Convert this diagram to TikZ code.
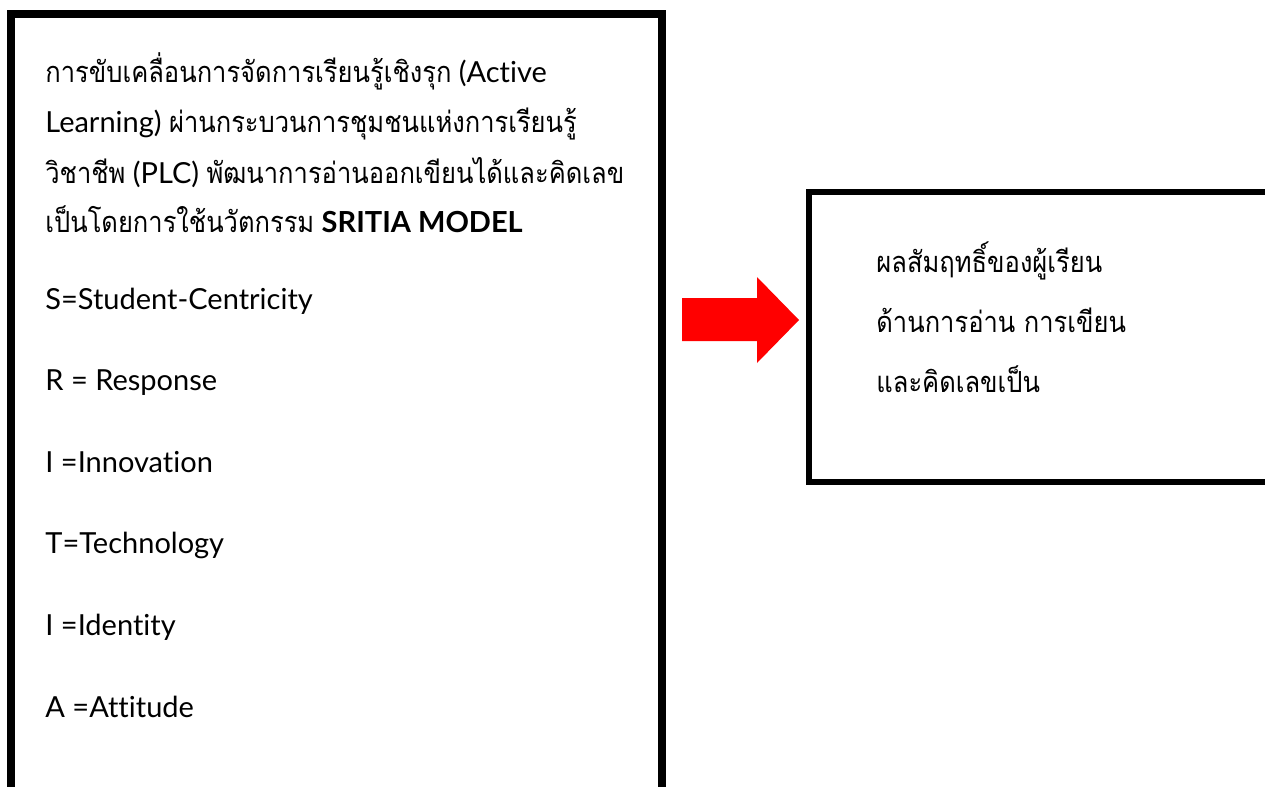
\documentclass[tikz,border=0pt]{standalone}
\usepackage{fontspec}
\setmainfont{Lato}[Ligatures=NoCommon]
\newfontfamily\thaifont[Script=Thai,FakeStretch=0.88]{Loma}
\usetikzlibrary{positioning}
\newcommand{\thtxt}[1]{{\thaifont #1}}
\tikzset{txt/.style={anchor=base west, inner sep=0pt, font=\fontsize{14.5}{17}\selectfont}}

\begin{document}
\begin{tikzpicture}[x=0.5pt,y=-0.5pt]
\clip (0,0) rectangle (1265,787);
\fill[white] (0,0) rectangle (1265,787);
% boxes
\draw[line width=4pt] (11,14) rectangle (662,820);
\draw[line width=3pt] (809,192) rectangle (1290,482);
% arrow
\fill[red] (682,298) -- (757,298) -- (757,277) -- (799,320) -- (757,363) -- (757,341) -- (682,341) -- cycle;
% left text
\node[txt] (p1) at (45,83) {\thtxt{การขับเคลื่อนการจัดการเรียนรู้เชิงรุก} (Active};
\node[txt] (p2) at (45,132) {Learning) \thtxt{ผ่านกระบวนการชุมชนแห่งการเรียนรู้}};
\node[txt] (p3) at (45,183) {\thtxt{วิชาชีพ} (PLC) \thtxt{พัฒนาการอ่านออกเขียนได้และคิดเลข}};
\node[txt] (p4) at (45,232) {\thtxt{เป็นโดยการใช้นวัตกรรม} \textbf{SRITIA MODEL}};
\node[txt] (s) at (45,309) {S=Student-Centricity};
\node[txt] (r) at (45,390) {R = Response};
\node[txt] (i1) at (45,472) {I =Innovation};
\node[txt] (t) at (45,553) {T=Technology};
\node[txt] (i2) at (45,635) {I =Identity};
\node[txt] (a) at (45,717) {A =Attitude};
% right text
\node[txt] (q1) at (876,272) {\thtxt{ผลสัมฤทธิ์ของผู้เรียน}};
\node[txt] (q2) at (876,332) {\thtxt{ด้านการอ่าน การเขียน}};
\node[txt] (q3) at (876,392) {\thtxt{และคิดเลขเป็น}};
\end{tikzpicture}
\end{document}
